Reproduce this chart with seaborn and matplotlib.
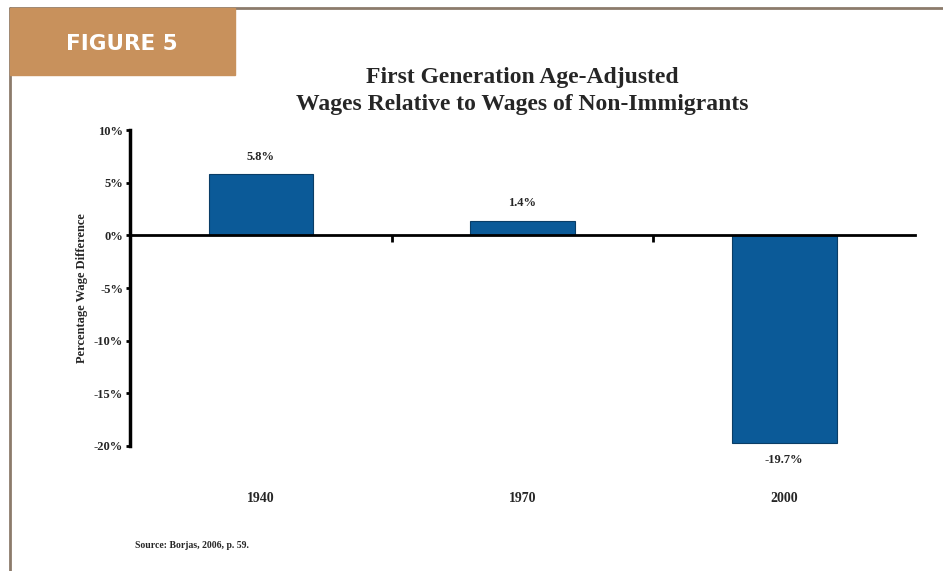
import matplotlib
matplotlib.use("Agg")
import matplotlib.pyplot as plt
import matplotlib.patches as mpatches
import seaborn as sns
import pandas as pd

years = ["1940", "1970", "2000"]
values = [5.8, 1.4, -19.7]
value_labels = ["5.8%", "1.4%", "-19.7%"]
y_ticks = [10, 5, 0, -5, -10, -15, -20]
y_tick_labels = ["10%", "5%", "0%", "-5%", "-10%", "-15%", "-20%"]

title = "First Generation Age-Adjusted\nWages Relative to Wages of Non-Immigrants"
ylabel = "Percentage Wage Difference"
source = "Source: Borjas, 2006, p. 59."
fig_label = "FIGURE 5"

sns.set_theme(style="white")
plt.rcParams['font.family'] = ['Liberation Serif', 'DejaVu Serif']

df = pd.DataFrame({"year": years, "value": values})

fig = plt.figure(figsize=(9.43, 5.71), dpi=100)
fig.patch.set_facecolor("white")

# frame lines and figure tab
fig.add_artist(plt.Line2D([10/943, 10/943], [0, 1 - 8/571], color="#8c7b6b", lw=2.0))
fig.add_artist(plt.Line2D([10/943, 1.0], [1 - 8/571, 1 - 8/571], color="#8c7b6b", lw=2.0))
fig.add_artist(mpatches.Rectangle((10/943, 1 - 75/571), 225/943, 67/571,
                                  transform=fig.transFigure, color="#c8915c", zorder=2))
fig.text(122/943, 1 - 44/571, fig_label, family="DejaVu Sans", weight="bold",
         color="white", fontsize=15.5, ha="center", va="center")

ax = fig.add_axes([130/943, 1 - 446/571, (915 - 130)/943, (446 - 130)/571])
sns.barplot(data=df, x="year", y="value", color="#0b5a98", saturation=1,
            width=0.4, edgecolor="#0a3d66", linewidth=0.8, ax=ax)

ax.set_ylim(-20, 10)
ax.set_xlim(-0.5, 2.5)
ax.set_yticks(y_ticks)
ax.set_yticklabels(y_tick_labels, fontsize=9, weight="bold")
ax.set_xticks([0.5, 1.5])
ax.set_xticklabels([])
ax.tick_params(axis="x", direction="out", length=5, width=2, color="black", bottom=True)
ax.tick_params(axis="y", direction="out", length=3, width=2, color="black", left=True, pad=2)

for s in ["top", "right"]:
    ax.spines[s].set_visible(False)
ax.spines["left"].set_linewidth(2.5)
ax.spines["left"].set_color("black")
ax.spines["bottom"].set_position(("data", 0))
ax.spines["bottom"].set_linewidth(2.0)
ax.spines["bottom"].set_color("black")
ax.set_xlabel("")
ax.set_ylabel(ylabel, fontsize=9, weight="bold", labelpad=4)

for i, yr in enumerate(years):
    ax.text(i, -0.165, yr, transform=ax.get_xaxis_transform(), ha="center",
            va="center", fontsize=10, weight="bold")

ax.bar_label(ax.containers[0], labels=value_labels, padding=8, fontsize=9, weight="bold")

fig.text(522/943, 1 - 91/571, title, ha="center", va="center", fontsize=17,
         weight="bold", linespacing=1.4)
fig.text(135/943, 1 - 546/571, source, ha="left", va="center", fontsize=7, weight="bold")

fig.savefig("out.png", dpi=100, facecolor="white")
